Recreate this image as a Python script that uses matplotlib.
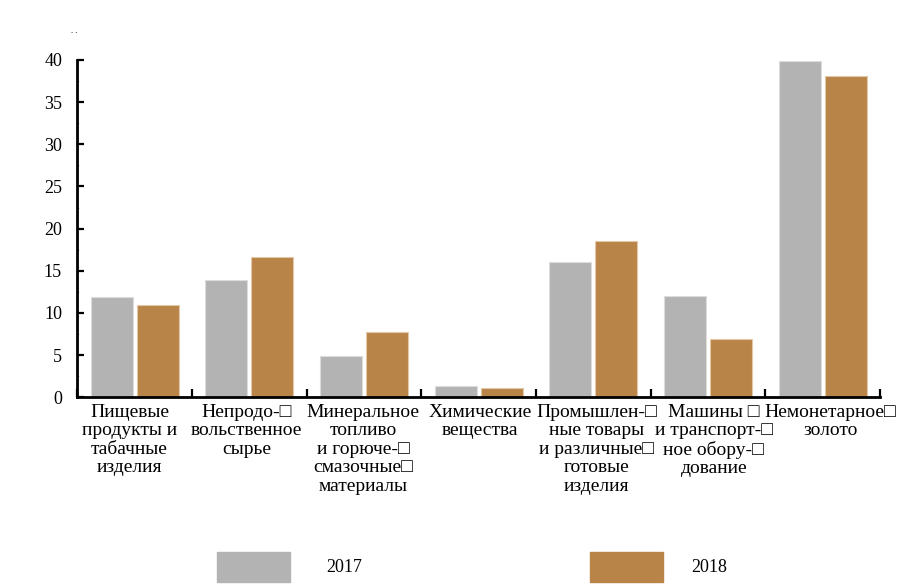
import numpy as np
import matplotlib
matplotlib.use("Agg")
import matplotlib.pyplot as plt
from matplotlib.patches import Rectangle

plt.rcParams['font.family'] = ['Liberation Serif', 'DejaVu Serif']

# данные
categories = [
    "Пищевые\nпродукты и\nтабачные\nизделия",
    "Непродо-\u25a1\nвольственное\nсырье",
    "Минеральное\nтопливо\nи горюче-\u25a1\nсмазочные\u25a1\nматериалы",
    "Химические\nвещества",
    "Промышлен-\u25a1\nные товары\nи различные\u25a1\nготовые\nизделия",
    "Машины \u25a1\nи транспорт-\u25a1\nное обору-\u25a1\nдование",
    "Немонетарное\u25a1\nзолото",
]
v2017 = [11.9, 13.9, 4.9, 1.3, 16.0, 12.0, 39.9]
v2018 = [11.0, 16.6, 7.8, 1.1, 18.5, 6.9, 38.1]
years = ["2017", "2018"]

gray = "#b3b3b3"
brown = "#b98448"

fig = plt.figure(figsize=(9.17, 5.87), dpi=100)
ax = fig.add_axes([0.0843, 0.3232, 0.8754, 0.5746])

x = np.arange(len(categories))
w = 0.365
ax.bar(x - 0.2, v2017, w, color=gray, edgecolor="#dcdcdc", linewidth=0.8)
ax.bar(x + 0.2, v2018, w, color=brown, edgecolor="#e3c9a6", linewidth=0.8)

ax.set_xlim(-0.5, len(categories) - 0.5)
ax.set_ylim(0, 40)
ax.set_yticks(np.arange(0, 41, 5))
ax.set_yticks(np.arange(0, 41, 2.5), minor=True)
ax.tick_params(axis='y', which='major', direction='in', length=5, width=1.6,
               labelsize=13, pad=11)
ax.tick_params(axis='y', which='minor', direction='in', length=1.5, width=0.5,
               color='#aaaaaa')

# границы категорий на оси x
ax.set_xticks(np.arange(-0.5, len(categories)), minor=True)
ax.set_xticks(x)
ax.set_xticklabels([])
ax.tick_params(axis='x', which='major', length=0)
ax.tick_params(axis='x', which='minor', direction='in', length=6, width=1.6)

for s in ['top', 'right']:
    ax.spines[s].set_visible(False)
for s in ['left', 'bottom']:
    ax.spines[s].set_linewidth(2)

# подписи чуть шире шага столбцов, как в оригинале
for i, lab in enumerate(categories):
    ax.text(i * 1.019 - 0.045, -0.75, lab, ha='center', va='top', fontsize=14,
            linespacing=1.12)

fig.text(0.081, 0.944, ". .", fontsize=6, ha='center')

# легенда
fig.patches.append(Rectangle((217 / 917, 1 - 582 / 587), 73 / 917, 30 / 587,
                             transform=fig.transFigure, color=gray))
fig.text(344 / 917, 1 - 567 / 587, years[0], fontsize=13, ha='center', va='center')
fig.patches.append(Rectangle((590 / 917, 1 - 582 / 587), 73 / 917, 30 / 587,
                             transform=fig.transFigure, color=brown))
fig.text(709 / 917, 1 - 567 / 587, years[1], fontsize=13, ha='center', va='center')

fig.savefig("out.png", dpi=100)
